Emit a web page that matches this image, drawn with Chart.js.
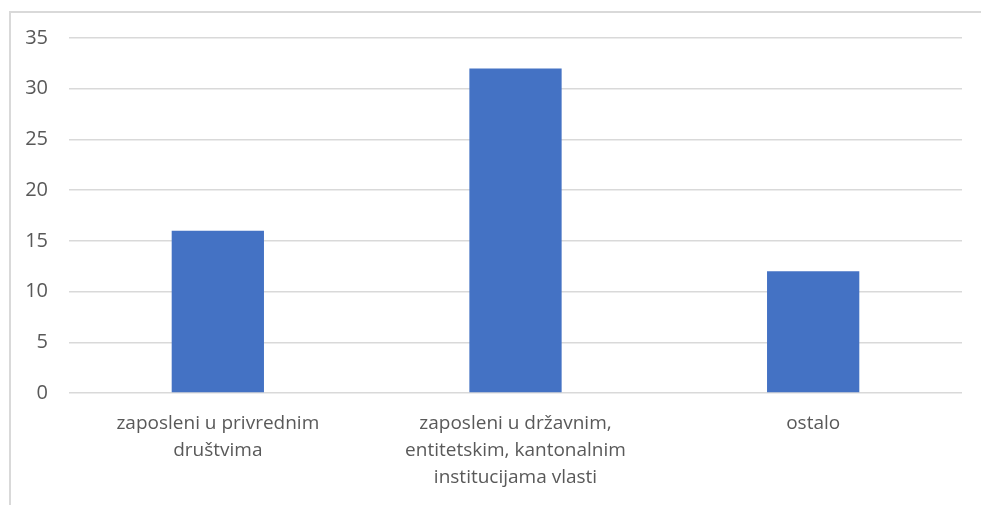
<!DOCTYPE html>
<html><head><meta charset="utf-8">
<script src="https://cdn.jsdelivr.net/npm/chart.js@4.4.1/dist/chart.umd.min.js"></script>
<style>
html,body{margin:0;padding:0;background:#fff;}
#frame{position:absolute;left:9px;top:11px;width:990px;height:520px;border-left:2px solid #d9d9d9;border-top:2px solid #d9d9d9;}
#wrap{position:absolute;left:0;top:0;width:981px;height:505px;}
</style></head>
<body>
<div id="frame"></div>
<div id="wrap"><canvas id="c"></canvas></div>
<script>
const categories = [
  ["zaposleni u privrednim", "društvima"],
  ["zaposleni u državnim,", "entitetskim, kantonalnim", "institucijama vlasti"],
  ["ostalo"]
];
const values = [16, 32, 12];
const yTicks = [0, 5, 10, 15, 20, 25, 30, 35];

const FONT = "'Open Sans', 'Noto Sans', sans-serif";
new Chart(document.getElementById('c'), {
  type: 'bar',
  data: {
    labels: categories,
    datasets: [{ data: values, backgroundColor: '#4472C4', barPercentage: 0.31, categoryPercentage: 1 }]
  },
  options: {
    responsive: true, maintainAspectRatio: false, animation: false,
    layout: { padding: { top: 38, right: 19, left: 0, bottom: 0 } },
    plugins: { legend: { display: false }, tooltip: { enabled: false } },
    scales: {
      x: {
        grid: { display: false, drawTicks: false },
        border: { display: false },
        ticks: { color: '#595959', font: { family: FONT, size: 19, lineHeight: 27/19 }, padding: 17, maxRotation: 0, autoSkip: false },
        afterFit: s => { s.height = 112; }
      },
      y: {
        min: 0, max: 35,
        afterBuildTicks: s => { s.ticks = yTicks.map(v => ({ value: v })); },
        grid: { color: '#d9d9d9', lineWidth: 1.5, drawTicks: false },
        border: { display: false },
        ticks: { color: '#595959', font: { family: FONT, size: 20 }, padding: 21 },
        afterFit: s => { s.width = 69; }
      }
    }
  }
});
</script>
</body></html>
